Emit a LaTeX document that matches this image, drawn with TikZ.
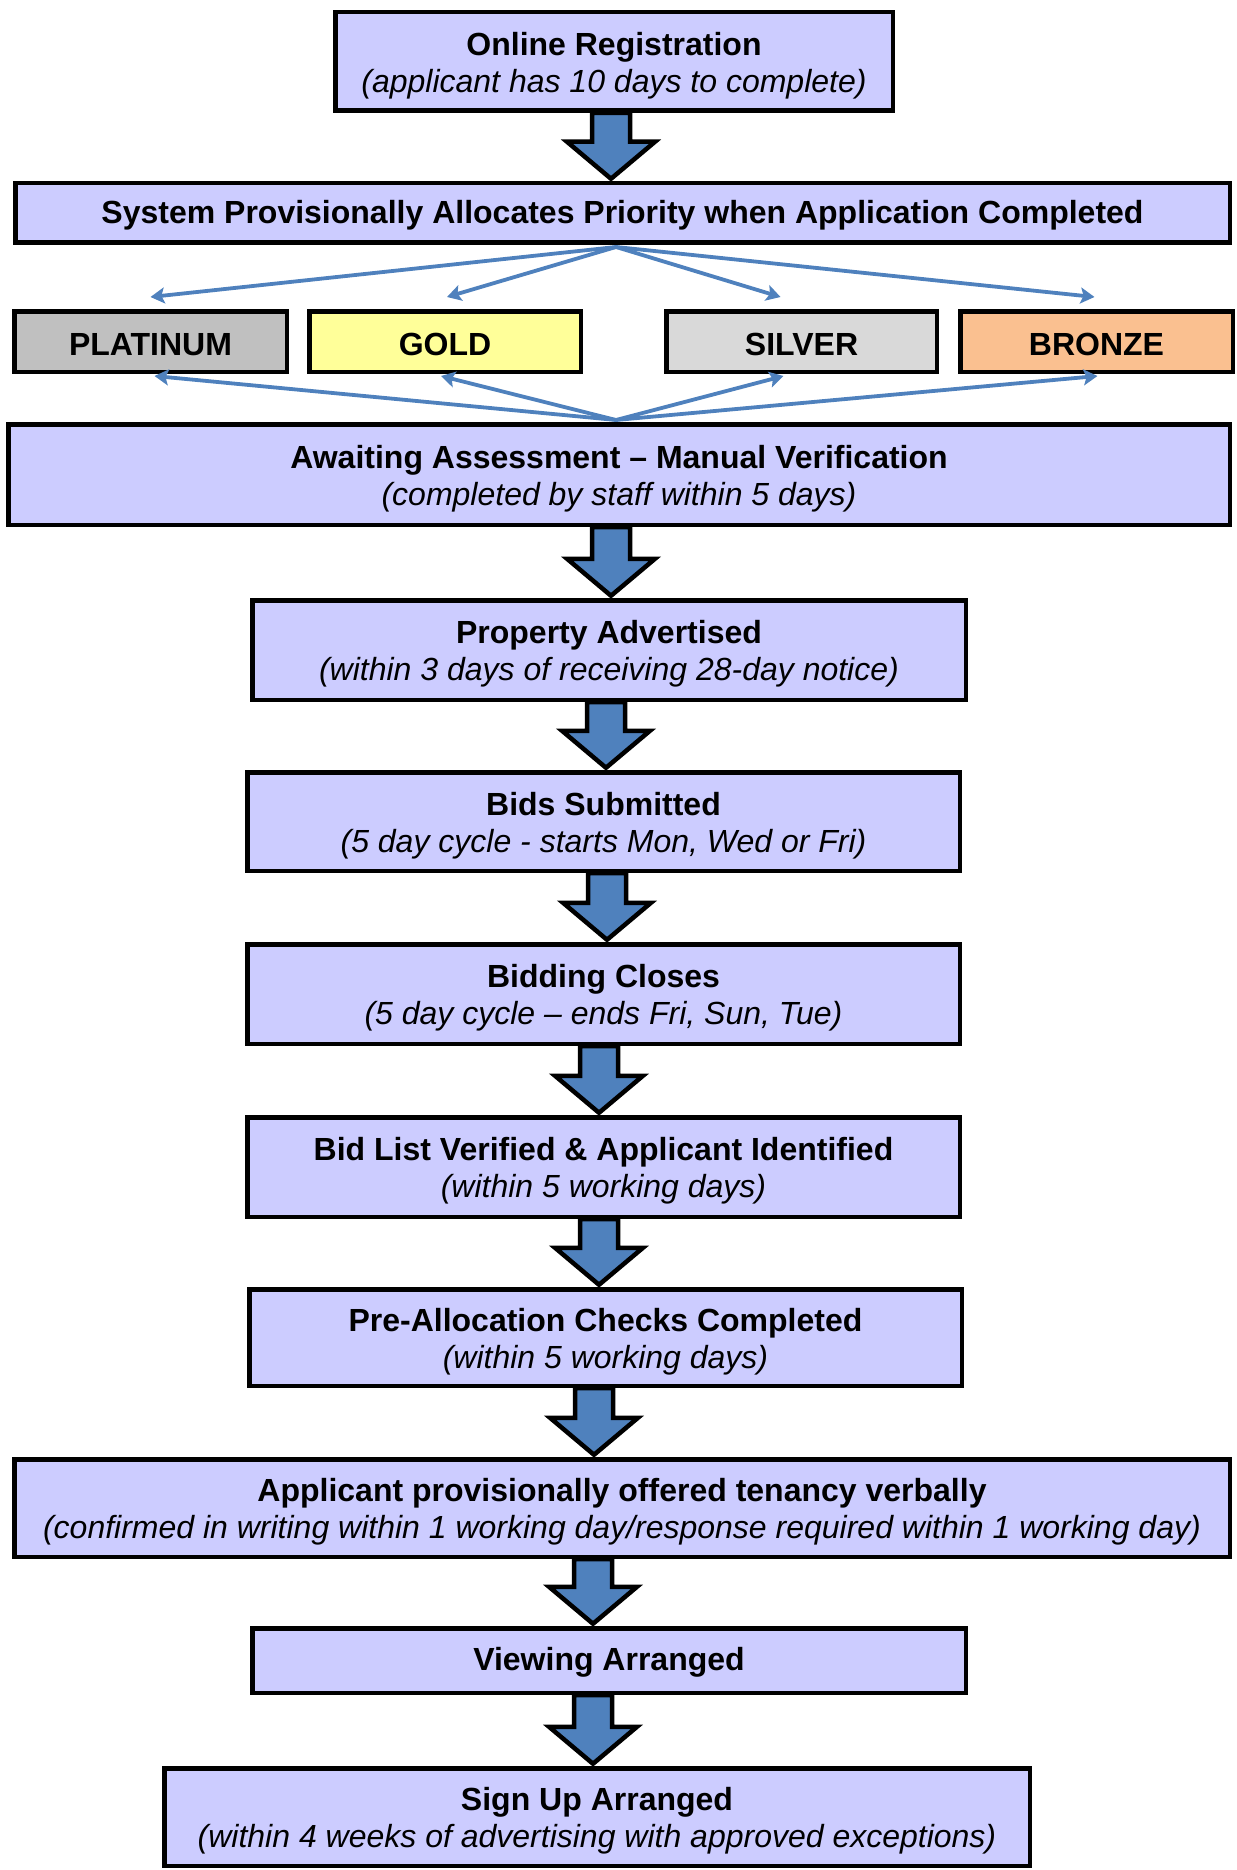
\documentclass[tikz,border=0pt]{standalone}
\usepackage{fontspec}
\setmainfont{Liberation Sans}
\usetikzlibrary{calc,arrows.meta}
\definecolor{boxfill}{HTML}{CCCCFF}
\definecolor{arrowblue}{HTML}{4F81BD}
\definecolor{platc}{HTML}{C0C0C0}
\definecolor{goldc}{HTML}{FFFF99}
\definecolor{silverc}{HTML}{D9D9D9}
\definecolor{bronzec}{HTML}{FAC090}
\newcommand{\sub}[1]{{\normalfont\itshape #1}}
\newcommand{\ts}{\rule{0pt}{31.5pt}}
\newcommand{\tss}{\rule{0pt}{27.5pt}}
\newcommand{\barrow}[3]{%
  \path let \p1=(#1.south), \p2=(#2.north) in
    [draw=black, line width=4.5pt, fill=arrowblue]
    (#3pt-19pt,\y1) -- (#3pt+19pt,\y1) -- (#3pt+19pt,\y2+39.25pt) -- (#3pt+44pt,\y2+39.25pt)
    -- (#3pt,\y2+2.25pt) -- (#3pt-44pt,\y2+39.25pt) -- (#3pt-19pt,\y2+39.25pt) -- cycle;}
\begin{document}
\begin{tikzpicture}[x=1pt,y=-1pt,
  box/.style={draw=black, line width=4.5pt, fill=boxfill, align=center, inner sep=0pt,
    font=\fontsize{32}{37}\selectfont\bfseries},
  prio/.style={box, minimum height=60.5pt},
  thinarrow/.style={draw=arrowblue, line width=3.8pt, -{Stealth[length=14pt,width=16pt,inset=3pt]}}]
\useasboundingbox (0,0) rectangle (1236,1870);
% boxes
\node[box, minimum width=557.5pt, minimum height=98.5pt] (b1) at (614,61.5)
  {\ts Online Registration\\\sub{(applicant has 10 days to complete)}};
\node[box, minimum width=1214.5pt, minimum height=59.5pt] (b2) at (622.5,213)
  {\tss System Provisionally Allocates Priority when Application Completed};
\node[prio, fill=platc, minimum width=272.5pt] (plat) at (150.5,341.5) {\tss PLATINUM};
\node[prio, fill=goldc, minimum width=271.5pt] (gold) at (445,341.5) {\tss GOLD};
\node[prio, fill=silverc, minimum width=270.5pt] (silver) at (801.5,341.5) {\tss SILVER};
\node[prio, fill=bronzec, minimum width=272.5pt] (bronze) at (1096.5,341.5) {\tss BRONZE};
\node[box, minimum width=1221.5pt, minimum height=100.5pt] (b3) at (619,474.5)
  {\ts Awaiting Assessment – Manual Verification\\\sub{(completed by staff within 5 days)}};
\node[box, minimum width=713.5pt, minimum height=99.5pt] (b4) at (609,650)
  {\ts Property Advertised\\\sub{(within 3 days of receiving 28-day notice)}};
\node[box, minimum width=712.5pt, minimum height=98.5pt] (b5) at (603.5,821.5)
  {\ts Bids Submitted\\\sub{(5 day cycle - starts Mon, Wed or Fri)}};
\node[box, minimum width=712.5pt, minimum height=99.5pt] (b6) at (603.5,994)
  {\ts Bidding Closes\\\sub{(5 day cycle – ends Fri, Sun, Tue)}};
\node[box, minimum width=712.5pt, minimum height=99.5pt] (b7) at (603.5,1167)
  {\ts Bid List Verified \& Applicant Identified\\\sub{(within 5 working days)}};
\node[box, minimum width=712.5pt, minimum height=96.5pt] (b8) at (605.5,1337.5)
  {\ts Pre-Allocation Checks Completed\\\sub{(within 5 working days)}};
\node[box, minimum width=1215.5pt, minimum height=97.5pt] (b9) at (622,1508)
  {\ts Applicant provisionally offered tenancy verbally\\\sub{(confirmed in writing within 1 working day/response required within 1 working day)}};
\node[box, minimum width=713.5pt, minimum height=64.5pt] (b10) at (609,1660.5)
  {\tss Viewing Arranged};
\node[box, minimum width=865.5pt, minimum height=97.5pt] (b11) at (597,1817)
  {\ts Sign Up Arranged\\\sub{(within 4 weeks of advertising with approved exceptions)}};
% block arrows
\barrow{b1}{b2}{611}
\barrow{b3}{b4}{611}
\barrow{b4}{b5}{606}
\barrow{b5}{b6}{607}
\barrow{b6}{b7}{599}
\barrow{b7}{b8}{599}
\barrow{b8}{b9}{594}
\barrow{b9}{b10}{593}
\barrow{b10}{b11}{593}
% priority connectors
\coordinate (hub1) at ($(b2.south)+(-6.5,2)$);
\coordinate (hub2) at ($(b3.north)+(-3,-2)$);
\draw[thinarrow] (hub1) -- ($(plat.north)+(0,-12)$);
\draw[thinarrow] (hub1) -- ($(gold.north)+(2,-12)$);
\draw[thinarrow] (hub1) -- ($(silver.north)+(-21,-12)$);
\draw[thinarrow] (hub1) -- ($(bronze.north)+(-2,-12)$);
\draw[thinarrow] (hub2) -- ($(plat.south)+(4,2)$);
\draw[thinarrow] (hub2) -- ($(gold.south)+(-4,2)$);
\draw[thinarrow] (hub2) -- ($(silver.south)+(-18,2)$);
\draw[thinarrow] (hub2) -- ($(bronze.south)+(1,2)$);
\end{tikzpicture}
\end{document}
